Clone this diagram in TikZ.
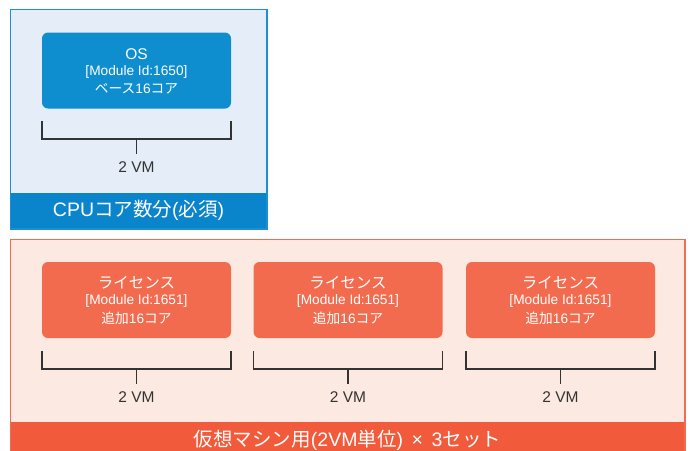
\documentclass[tikz,border=0pt]{standalone}
\usepackage{fontspec}
\setmainfont{Liberation Sans}
\newfontfamily\jp{Noto Sans CJK JP}
\definecolor{blueline}{HTML}{1C8FD3}
\definecolor{bluebg}{HTML}{E5EEF8}
\definecolor{bluebox}{HTML}{0E8ECF}
\definecolor{blueband}{HTML}{0A84CA}
\definecolor{orline}{HTML}{F26C52}
\definecolor{orbg}{HTML}{FCEAE2}
\definecolor{orbox}{HTML}{F26B4E}
\definecolor{orband}{HTML}{F15A3B}
\definecolor{brk}{HTML}{333333}
\tikzset{
  panel/.style={inner sep=0pt, line width=1.5pt},
  band/.style={inner sep=0pt, text=white, font=\fontsize{19.5}{22}\selectfont},
  modbox/.style={rounded corners=6pt, minimum width=189pt, minimum height=76pt, inner sep=0pt},
  ttl/.style={text=white, font=\fontsize{15.5}{18}\selectfont, inner sep=0pt},
  sub/.style={text=white, font=\fontsize{13.7}{16}\selectfont, inner sep=0pt},
  bracket/.style={draw=brk, line width=1.6pt},
  vm/.style={text=brk, font=\fontsize{15.5}{18}\selectfont, inner sep=0pt}
}
\begin{document}
\begin{tikzpicture}[x=1pt,y=-1pt]
\useasboundingbox (0,0) rectangle (690,450);
% blue panel
\node[panel, fill=bluebg, minimum width=255pt, minimum height=218pt] (cpupanel) at (138.5,119) {};
\node[band, fill=blueband, minimum width=255pt, minimum height=35pt] (cpuband) at (138.5,210.5) {CPU{\jp コア数分}({\jp 必須})};
\draw[blueline, line width=1.5pt] (cpupanel.north west) rectangle (cpupanel.south east);
% OS box
\node[modbox, fill=bluebox] (os) at (136.5,70.5) {};
\node[ttl] (ost) at ([yshift=16.5pt]os.center) {OS};
\node[sub] (osm) at ([yshift=-1.5pt]os.center) {[Module Id:1650]};
\node[sub] (osc) at ([yshift=-18.5pt]os.center) {{\jp ベース}16{\jp コア}};
\coordinate (osl) at (42,121);
\coordinate (osr) at (231,121);
\coordinate (osmid) at (136.5,139);
\draw[bracket] (osl) |- (osmid) -| (osr);
\node[vm] (osvm) at (136.5,167) {2 VM};
\draw[bracket] (osmid) -- ++(0,15);
% orange panel
\node[panel, fill=orbg, minimum width=673pt, minimum height=218pt] (vmpanel) at (347.5,349) {};
\node[band, fill=orband, minimum width=673pt, minimum height=36pt] (vmband) at (347.5,440) {{\jp 仮想マシン用}(2VM{\jp 単位}) \,×\, 3{\jp セット}};
\draw[orline, line width=1.5pt] (vmpanel.north west) rectangle (vmpanel.south east);
\foreach \i/\cx in {1/136.5, 2/348, 3/560.5} {
  \node[modbox, fill=orbox] (l\i) at (\cx,300) {};
  \node[ttl] (l\i t) at ([yshift=17.5pt]l\i.center) {\jp ライセンス};
  \node[sub] (l\i m) at ([yshift=-1pt]l\i.center) {[Module Id:1651]};
  \node[sub] (l\i c) at ([yshift=-18.5pt]l\i.center) {{\jp 追加}16{\jp コア}};
  \coordinate (l\i L) at (\cx-94.5,351);
  \coordinate (l\i R) at (\cx+94.5,351);
  \coordinate (l\i M) at (\cx,369);
  \draw[bracket] (l\i L) |- (l\i M) -| (l\i R);
  \draw[bracket] (l\i M) -- ++(0,15);
  \node[vm] (l\i vm) at (\cx,397) {2 VM};
}
\end{tikzpicture}
\end{document}
